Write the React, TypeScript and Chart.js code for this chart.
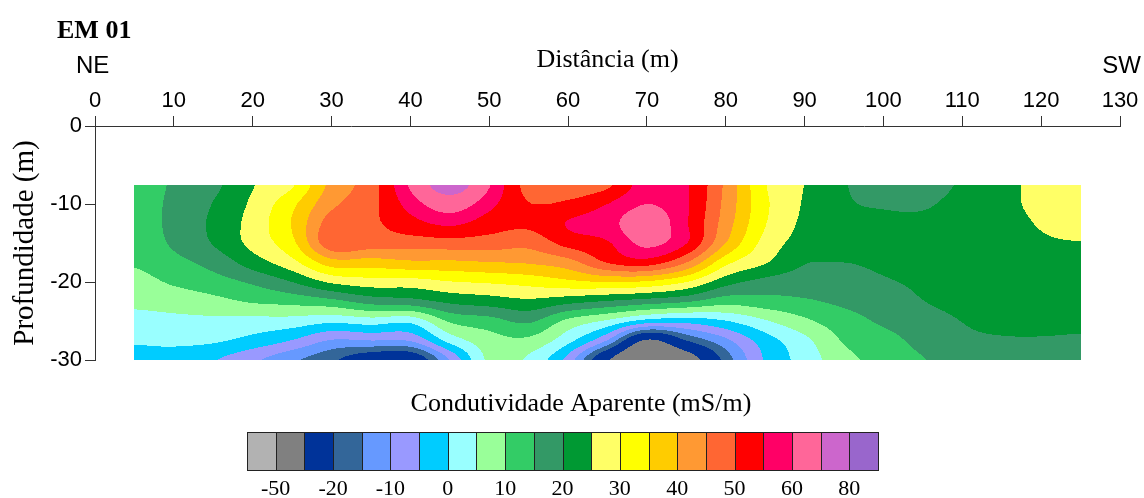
import React, { useEffect, useRef } from "react";
import { Chart, registerables } from "chart.js";

Chart.register(...registerables);

// Survey positions (m) and depths (m)
const distances = [5, 10, 15, 20, 25, 30, 35, 40, 45, 50, 55, 60, 65, 70, 75, 80, 85, 90, 95, 100, 105, 110, 115, 120, 125];
const depths = [-7.5, -10, -12.5, -15, -17.5, -20, -22.5, -25, -27.5, -30];

// Apparent conductivity (mS/m), one array per depth
const at7m5 = [12.5, 15.6, 18.8, 24.7, 29.4, 41.5, 47.7, 61, 76, 60.5, 48, 46.5, 49, 57.5, 55.5, 44, 30.3, 24.9, 20.3, 18.5, 18.5, 20.5, 23.3, 26.5, 27.5];
const at10m = [12.3, 16.2, 20.2, 26, 33.8, 43.8, 48.5, 57, 64, 56.5, 50.2, 51, 55, 60, 55.6, 43.5, 31, 24.5, 20.6, 19.6, 19.5, 21.5, 23.8, 26, 27];
const at12m5 = [12, 16.5, 20.9, 27, 35.3, 47.5, 49, 53, 56, 52.5, 51, 55.3, 58, 64, 55.5, 42.5, 30.3, 24, 21.5, 21, 21, 22.5, 23.5, 25.3, 26.2];
const at15m = [11.5, 15.8, 20.3, 26.6, 33.7, 48.5, 47.5, 47.5, 47.9, 47.6, 46.6, 51.8, 54.5, 61.5, 55.2, 40, 28.3, 23, 21.5, 21.2, 21.5, 22.8, 23, 24.5, 24.9];
const at17m5 = [10.5, 13.5, 16.8, 22.4, 28.4, 37.7, 37.6, 39, 39, 39.8, 40.5, 43, 50.2, 52.5, 45, 31.5, 25.4, 20.3, 20, 20.8, 21.5, 22.5, 22.8, 23.7, 24];
const at20m = [8.2, 10.7, 12.9, 15.8, 20, 25.8, 27.8, 27.8, 29.7, 30.6, 31.8, 33.8, 35, 34.2, 30, 22, 18.4, 17.6, 17.9, 19.5, 20.8, 22, 22.5, 23, 23.2];
const at22m5 = [6, 7, 8.5, 10.5, 11.6, 13.4, 16.9, 18, 21, 22.4, 23.9, 21.6, 19.5, 17.5, 15.5, 12, 13, 14.3, 16, 17.5, 19.9, 21.3, 22, 22.3, 22.5];
const at25m = [3.4, 3.8, 3.9, 3.4, 3, 1.2, 2.5, 1.5, 10.7, 13.1, 15.8, 8.75, 4.2, -2, -3, -0.2, 4.5, 9, 12.9, 15.8, 18, 20.1, 21.5, 21.5, 21.5];
const at27m5 = [0.6, 1.2, 0.7, -1.7, -5.2, -10.4, -10, -9.5, 1.8, 7.9, 8.8, 1.6, -10.4, -31, -20, -11.2, -2.4, 3.7, 10.5, 13.2, 16.5, 18.8, 19.5, 19.6, 19.3];
const at30m = [-2, -2.5, -4.7, -9, -14, -19, -25, -26, -10, 6, 4, -7, -29, -45, -36, -18, -4.5, 2, 8.4, 11.8, 14.8, 17, 18, 18, 18.5];

// Contour levels and fill colours
const levels = [-50, -30, -20, -15, -10, -5, 0, 5, 10, 15, 20, 25, 30, 35, 40, 45, 50, 55, 60, 70, 80];
const bandColors = [
  "#b2b2b2", "#808080", "#003399", "#336699", "#6699ff", "#9999ff", "#00ccff", "#99ffff",
  "#99ff99", "#33cc66", "#339966", "#009933", "#ffff66", "#ffff00", "#ffcc00", "#ff9933",
  "#ff6633", "#ff0000", "#ff0066", "#ff6699", "#cc66cc", "#9966cc",
];
const scaleLabels = [-50, -20, -10, 0, 10, 20, 30, 40, 50, 60, 80];

const grid = [at7m5, at10m, at12m5, at15m, at17m5, at20m, at22m5, at25m, at27m5, at30m];

function hexRgb(h: string) {
  return [parseInt(h.slice(1, 3), 16), parseInt(h.slice(3, 5), 16), parseInt(h.slice(5, 7), 16)];
}

function cr(p0: number, p1: number, p2: number, p3: number, t: number) {
  return 0.5 * (2 * p1 + (-p0 + p2) * t + (2 * p0 - 5 * p1 + 4 * p2 - p3) * t * t + (-p0 + 3 * p1 - 3 * p2 + p3) * t * t * t);
}

function sample(g: number[][], gx: number, gy: number) {
  const ny = g.length, nx = g[0].length;
  const i = Math.min(Math.max(Math.floor(gx), 0), nx - 2);
  const j = Math.min(Math.max(Math.floor(gy), 0), ny - 2);
  const tx = Math.min(Math.max(gx - i, 0), 1);
  const ty = Math.min(Math.max(gy - j, 0), 1);
  const at = (jj: number, ii: number) => g[Math.min(Math.max(jj, 0), ny - 1)][Math.min(Math.max(ii, 0), nx - 1)];
  const r: number[] = [];
  for (let m = -1; m <= 2; m++) {
    r.push(cr(at(j + m, i - 1), at(j + m, i), at(j + m, i + 1), at(j + m, i + 2), tx));
  }
  const v = cr(r[0], r[1], r[2], r[3], ty);
  const a = at(j, i), b = at(j, i + 1), c = at(j + 1, i), d = at(j + 1, i + 1);
  return Math.min(Math.max(a, b, c, d), Math.max(Math.min(a, b, c, d), v));
}

function bandOf(v: number) {
  let k = 0;
  while (k < levels.length && v >= levels[k]) k++;
  return k;
}

const contourPlugin = {
  id: "contourFill",
  beforeDatasetsDraw(chart: any) {
    const xs = chart.scales.x;
    const ys = chart.scales.y;
    const ctx = chart.ctx;
    const ds = chart.data.datasets[0].data as { x: number; y: number; v: number }[];
    const g: number[][] = depths.map(() => distances.map(() => 0));
    ds.forEach((p) => {
      g[depths.indexOf(p.y)][distances.indexOf(p.x)] = p.v;
    });
    const x0 = Math.round(xs.getPixelForValue(distances[0]));
    const x1 = Math.round(xs.getPixelForValue(distances[distances.length - 1]));
    const y0 = Math.round(ys.getPixelForValue(depths[0]));
    const y1 = Math.round(ys.getPixelForValue(depths[depths.length - 1]));
    const w = x1 - x0, h = y1 - y0;
    const off = document.createElement("canvas");
    off.width = w;
    off.height = h;
    const octx = off.getContext("2d")!;
    const img = octx.createImageData(w, h);
    const rgb = bandColors.map(hexRgb);
    const dx = distances[1] - distances[0];
    const dy = depths[1] - depths[0];
    for (let jy = 0; jy < h; jy++) {
      const dv = ys.getValueForPixel(y0 + jy + 0.5);
      const gy = (dv - depths[0]) / dy;
      for (let ix = 0; ix < w; ix++) {
        const xv = xs.getValueForPixel(x0 + ix + 0.5);
        const gx = (xv - distances[0]) / dx;
        const c = rgb[bandOf(sample(g, gx, gy))];
        const o = (jy * w + ix) * 4;
        img.data[o] = c[0];
        img.data[o + 1] = c[1];
        img.data[o + 2] = c[2];
        img.data[o + 3] = 255;
      }
    }
    octx.putImageData(img, 0, 0);
    ctx.drawImage(off, x0, y0);
  },
};

const overlayPlugin = {
  id: "overlayTexts",
  afterDraw(chart: any) {
    const ctx = chart.ctx as CanvasRenderingContext2D;
    ctx.save();
    ctx.fillStyle = "#000";
    ctx.textBaseline = "alphabetic";
    ctx.font = "bold 26px 'Liberation Serif'";
    ctx.textAlign = "left";
    ctx.fillText("EM 01", 57, 38);
    ctx.font = "24px 'Liberation Sans'";
    ctx.fillText("NE", 76, 73);
    ctx.textAlign = "right";
    ctx.fillText("SW", 1141, 73);

    ctx.textAlign = "center";
    ctx.font = "26px 'Liberation Serif'";
    ctx.fillText("Condutividade Aparente (mS/m)", 581, 411);

    const left = 247, right = 878, top = 432, bottom = 470;
    const bw = (right - left) / bandColors.length;
    bandColors.forEach((c, k) => {
      const a = Math.round(left + k * bw);
      const b = Math.round(left + (k + 1) * bw);
      ctx.fillStyle = c;
      ctx.fillRect(a, top, b - a, bottom - top);
    });
    ctx.strokeStyle = "#222";
    ctx.lineWidth = 1;
    for (let k = 0; k <= bandColors.length; k++) {
      const a = Math.round(left + k * bw) + 0.5;
      ctx.beginPath();
      ctx.moveTo(a, top);
      ctx.lineTo(a, bottom);
      ctx.stroke();
    }
    ctx.beginPath();
    ctx.moveTo(left, top + 0.5);
    ctx.lineTo(right + 1, top + 0.5);
    ctx.moveTo(left, bottom + 0.5);
    ctx.lineTo(right + 1, bottom + 0.5);
    ctx.stroke();

    ctx.fillStyle = "#000";
    ctx.font = "22px 'Liberation Serif'";
    scaleLabels.forEach((v) => {
      const k = levels.indexOf(v) + 1;
      ctx.fillText(String(v), left + k * bw, 495);
    });
    ctx.restore();
  },
};

export default function App() {
  const ref = useRef<HTMLCanvasElement>(null);
  useEffect(() => {
    const canvas = ref.current!;
    const points: { x: number; y: number; v: number }[] = [];
    depths.forEach((d, j) => distances.forEach((x, i) => points.push({ x, y: d, v: grid[j][i] })));
    const axisColor = "#333";
    const chart = new Chart(canvas, {
      type: "scatter",
      data: { datasets: [{ data: points as any, pointRadius: 0, pointHoverRadius: 0 }] },
      options: {
        responsive: false,
        animation: false,
        events: [],
        layout: { padding: { top: 0, left: 0, right: 24, bottom: 138 } },
        plugins: { legend: { display: false }, tooltip: { enabled: false } },
        scales: {
          x: {
            type: "linear",
            position: "top",
            min: 0,
            max: 130,
            afterFit(s: any) {
              s.height = 126;
              s.paddingLeft = 0;
              s.paddingRight = 0;
            },
            ticks: { stepSize: 10, font: { family: "'Liberation Sans'", size: 22 }, color: "#000", padding: 2, maxRotation: 0, autoSkip: false },
            grid: { drawOnChartArea: false, tickLength: 10, color: axisColor, tickColor: axisColor },
            border: { display: true, color: axisColor, width: 1 },
            title: { display: true, text: "Distância (m)", font: { family: "'Liberation Serif'", size: 26 }, color: "#000", padding: { top: 45, bottom: 0 } },
          },
          y: {
            type: "linear",
            position: "left",
            min: -30,
            max: 0,
            afterFit(s: any) {
              s.width = 95;
              s.paddingTop = 0;
              s.paddingBottom = 0;
            },
            ticks: { stepSize: 10, font: { family: "'Liberation Sans'", size: 22 }, color: "#000", padding: 3 },
            grid: { drawOnChartArea: false, tickLength: 10, color: axisColor, tickColor: axisColor },
            border: { display: true, color: axisColor, width: 1 },
            title: { display: true, text: "Profundidade (m)", font: { family: "'Liberation Serif'", size: 29 }, color: "#000", padding: { top: 8, bottom: 0 } },
          },
        },
      } as any,
      plugins: [contourPlugin, overlayPlugin],
    });
    return () => chart.destroy();
  }, []);
  return (
    <div style={{ position: "absolute", left: 0, top: 0, width: 1144, height: 498, background: "#fff" }}>
      <canvas ref={ref} width={1144} height={498} style={{ display: "block" }} />
    </div>
  );
}
